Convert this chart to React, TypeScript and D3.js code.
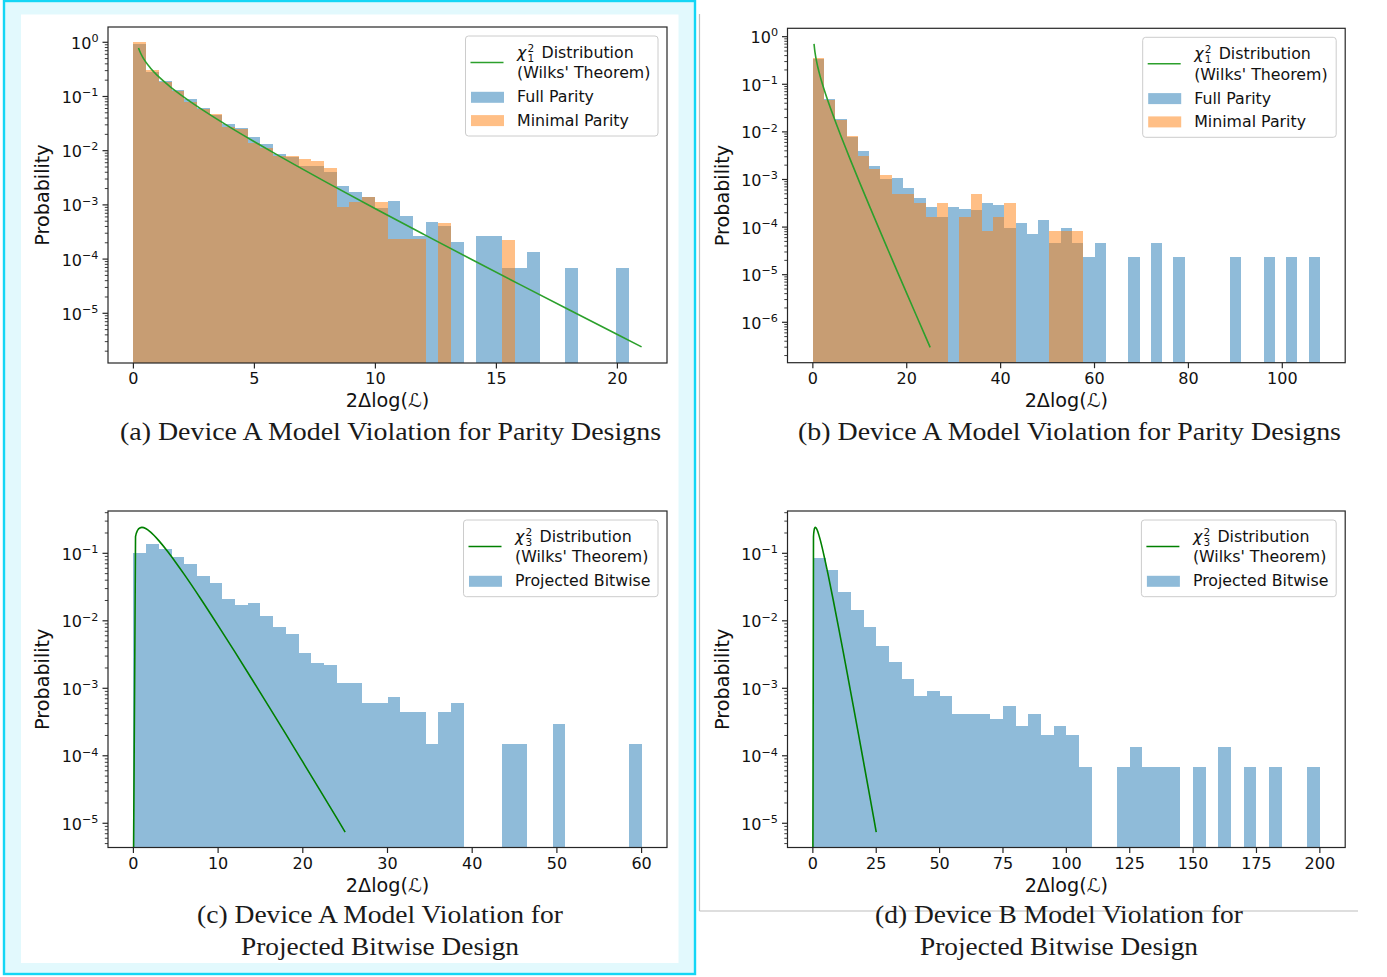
import React from 'react';
import * as d3 from 'd3';

const W = 1387;
const H = 977;

const BLUE = '#1f77b4';
const ORANGE = '#ff7f0e';

// ---------------- Panel (a): Device A, parity designs ----------------
const aBinWidth = 0.525;
const aFullParity = [
  0.93, 0.287, 0.19, 0.132, 0.0887, 0.0605, 0.0456, 0.0311, 0.0259, 0.0177,
  0.0133, 0.00869, 0.00776, 0.0053, 0.0053, 0.0041, 0.00223, 0.00171, 0.00142, 0.00089,
  0.00118, 0.00063, 0.000272, 0.000476, 0.000408, 0.000204, 0, 0.000272, 0.000272, 0.000068,
  0.000068, 0.000136, 0, 0, 0.000068, 0, 0, 0, 0.000068, 0,
];
const aMinimalParity = [
  1.0, 0.308, 0.182, 0.1245, 0.0804, 0.058, 0.0482, 0.027, 0.0248, 0.01406,
  0.01107, 0.00798, 0.00798, 0.00703, 0.00637, 0.00486, 0.000927, 0.00115, 0.00138, 0.00113,
  0.000232, 0.000232, 0.000232, 0, 0.000457, 0, 0, 0, 0, 0.000225,
  0, 0, 0, 0, 0, 0, 0, 0, 0, 0,
];
const aChiX = [0.21, 0.3, 0.4, 0.5, 0.7, 1, 1.5, 2, 3, 4, 5, 6, 8, 10, 12, 14, 16, 18, 20, 21];
const aChiY = [
  0.783, 0.627, 0.517, 0.439, 0.336, 0.242, 0.154, 0.104, 0.0514, 0.027,
  0.01465, 0.00811, 0.00258, 0.00085, 0.000286, 0.0000972, 0.0000335, 0.0000116, 0.00000405, 0.0000024,
];
const aXTicks = [0, 5, 10, 15, 20];
const aYTickExps = [0, -1, -2, -3, -4, -5];

// ---------------- Panel (b): Device A, parity designs (wide range) ----------------
const bBinWidth = 2.4;
const bFullParity = [
  0.34, 0.0491, 0.01837, 0.0077, 0.00398, 0.00192, 0.00101, 0.00108, 0.000653, 0.000416,
  0.000269, 0.000166, 0.000269, 0.00024, 0.000229, 0.000315, 0.000291, 0.000094, 0.000122, 0.0000705,
  0.000141, 0.000047, 0.000094, 0.000047, 0.0000235, 0.000047, 0, 0, 0.0000235, 0,
  0.000047, 0, 0.0000235, 0, 0, 0, 0, 0.0000235, 0, 0,
  0.0000235, 0, 0.0000235, 0, 0.0000235,
];
const bMinimalParity = [
  0.351, 0.0468, 0.0178, 0.00807, 0.00312, 0.00164, 0.00124, 0.000505, 0.000505, 0.000327,
  0.000166, 0.000321, 0, 0.000166, 0.000497, 0.000083, 0.000166, 0.000315, 0, 0,
  0, 0.000081, 0.000081, 0.000081, 0, 0, 0, 0, 0, 0,
  0, 0, 0, 0, 0, 0, 0, 0, 0, 0,
  0, 0, 0, 0, 0,
];
const bChiX = [0.25, 0.4, 0.5, 0.7, 1, 1.5, 2, 3, 4, 5, 6, 8, 10, 12, 14, 16, 18, 20, 22, 24, 25];
const bChiY = [
  0.704, 0.517, 0.439, 0.336, 0.242, 0.154, 0.104, 0.0514, 0.027, 0.01465,
  0.00811, 0.00258, 0.00085, 0.000286, 0.0000972, 0.0000335, 0.0000116, 0.00000405, 0.00000142, 0.0000005,
  0.000000297,
];
const bXTicks = [0, 20, 40, 60, 80, 100];
const bYTickExps = [0, -1, -2, -3, -4, -5, -6];

// ---------------- Panel (c): Device A, projected bitwise ----------------
const cBinWidth = 1.5;
const cProjectedBitwise = [
  0.1, 0.136, 0.116, 0.0871, 0.0687, 0.0461, 0.0359, 0.021, 0.01714, 0.01837,
  0.01178, 0.00809, 0.00631, 0.0033, 0.00237, 0.00221, 0.0012, 0.0012, 0.0006, 0.0006,
  0.00075, 0.00045, 0.00045, 0.00015, 0.00045, 0.0006, 0, 0, 0, 0.00015,
  0.00015, 0, 0, 0.0003, 0, 0, 0, 0, 0, 0.00015,
];
const chi3X = [0, 0.25, 0.5, 0.75, 1, 1.5, 2, 3, 4, 5, 6, 8, 10, 12, 14, 16, 18, 20, 22, 24, 25];
const chi3Y = [
  0, 0.176, 0.2197, 0.2375, 0.242, 0.2308, 0.2076, 0.1542, 0.108, 0.0732,
  0.0487, 0.0207, 0.0085, 0.00343, 0.00136, 0.000535, 0.000209, 0.000081, 0.0000313, 0.000012,
  0.0000074,
];
const cXTicks = [0, 10, 20, 30, 40, 50, 60];
const cYTickExps = [-1, -2, -3, -4, -5];

// ---------------- Panel (d): Device B, projected bitwise ----------------
const dBinWidth = 5;
const dProjectedBitwise = [
  0.0841, 0.0566, 0.027, 0.01429, 0.0081, 0.00424, 0.00243, 0.00139, 0.00076, 0.000912,
  0.00076, 0.000412, 0.000412, 0.000412, 0.000348, 0.000547, 0.00028, 0.000412, 0.000204, 0.00028,
  0.000204, 0.000068, 0, 0, 0.000068, 0.000137, 0.000068, 0.000068, 0.000068, 0,
  0.000068, 0, 0.000137, 0, 0.000068, 0, 0.000068, 0, 0, 0.000068,
];
const dXTicks = [0, 25, 50, 75, 100, 125, 150, 175, 200];
const dYTickExps = [-1, -2, -3, -4, -5];

type Series = { values: number[]; color: string; label: string };
type PanelCfg = {
  id: string;
  box: { l: number; t: number; r: number; b: number };
  xDomain: [number, number];
  yExp: [number, number];
  xTicks: number[];
  yTickExps: number[];
  binWidth: number;
  series: Series[];
  curveX: number[];
  curveY: number[];
  curveColor: string;
  dof: string;
  legendW: number;
  ylabelX: number;
  xlabelY: number;
};

const panels: PanelCfg[] = [
  {
    id: 'a',
    box: { l: 108, t: 27, r: 667, b: 363 },
    xDomain: [-1.05, 22.05],
    yExp: [-5.917, 0.282],
    xTicks: aXTicks,
    yTickExps: aYTickExps,
    binWidth: aBinWidth,
    series: [
      { values: aFullParity, color: BLUE, label: 'Full Parity' },
      { values: aMinimalParity, color: ORANGE, label: 'Minimal Parity' },
    ],
    curveX: aChiX,
    curveY: aChiY,
    curveColor: '#2ca02c',
    dof: '1',
    legendW: 192.5,
    ylabelX: 42,
    xlabelY: 407,
  },
  {
    id: 'b',
    box: { l: 787.5, t: 28.3, r: 1345.2, b: 362.7 },
    xDomain: [-5.4, 113.4],
    yExp: [-6.849, 0.176],
    xTicks: bXTicks,
    yTickExps: bYTickExps,
    binWidth: bBinWidth,
    series: [
      { values: bFullParity, color: BLUE, label: 'Full Parity' },
      { values: bMinimalParity, color: ORANGE, label: 'Minimal Parity' },
    ],
    curveX: bChiX,
    curveY: bChiY,
    curveColor: '#2ca02c',
    dof: '1',
    legendW: 193.5,
    ylabelX: 722,
    xlabelY: 407,
  },
  {
    id: 'c',
    box: { l: 108, t: 511, r: 667, b: 847.5 },
    xDomain: [-3, 63],
    yExp: [-5.359, -0.373],
    xTicks: cXTicks,
    yTickExps: cYTickExps,
    binWidth: cBinWidth,
    series: [{ values: cProjectedBitwise, color: BLUE, label: 'Projected Bitwise' }],
    curveX: chi3X,
    curveY: chi3Y,
    curveColor: '#008000',
    dof: '3',
    legendW: 194.5,
    ylabelX: 42,
    xlabelY: 891.5,
  },
  {
    id: 'd',
    box: { l: 787.5, t: 511, r: 1345.2, b: 847.5 },
    xDomain: [-10, 210],
    yExp: [-5.359, -0.373],
    xTicks: dXTicks,
    yTickExps: dYTickExps,
    binWidth: dBinWidth,
    series: [{ values: dProjectedBitwise, color: BLUE, label: 'Projected Bitwise' }],
    curveX: chi3X,
    curveY: chi3Y,
    curveColor: '#008000',
    dof: '3',
    legendW: 194.8,
    ylabelX: 722,
    xlabelY: 891.5,
  },
];

const TICK_FS = 16;
const LABEL_FS = 19.2;
const AXIS_COLOR = '#262626';

function Panel({ cfg }: { cfg: PanelCfg }) {
  const { box } = cfg;
  const x = d3.scaleLinear().domain(cfg.xDomain).range([box.l, box.r]);
  const y = d3
    .scaleLog()
    .domain([Math.pow(10, cfg.yExp[0]), Math.pow(10, cfg.yExp[1])])
    .range([box.b, box.t]);
  const clipId = `clip-${cfg.id}`;

  const bars = cfg.series.map((s, si) =>
    s.values.map((v, i) => {
      if (!(v > 0)) return null;
      const x0 = x(i * cfg.binWidth);
      const x1 = x((i + 1) * cfg.binWidth);
      const yt = y(v);
      return (
        <rect
          key={`${si}-${i}`}
          x={x0}
          width={x1 - x0}
          y={yt}
          height={box.b - yt}
          fill={s.color}
          fillOpacity={0.5}
          shapeRendering="crispEdges"
        />
      );
    })
  );

  const pts: [number, number][] = cfg.curveX.map((xv, i) => [
    x(xv),
    cfg.curveY[i] > 0 ? y(cfg.curveY[i]) : box.b + 30,
  ]);
  const linePath = d3.line().curve(d3.curveMonotoneX)(pts) || '';

  const minor: number[] = [];
  for (let e = Math.floor(cfg.yExp[0]) - 1; e <= Math.ceil(cfg.yExp[1]); e++) {
    for (let m = 2; m <= 9; m++) {
      const lv = Math.log10(m) + e;
      if (lv >= cfg.yExp[0] && lv <= cfg.yExp[1]) minor.push(m * Math.pow(10, e));
    }
  }

  // legend
  const lw = cfg.legendW;
  const lx = box.r - 9 - lw;
  const ly = box.t + 9;
  const lh = cfg.series.length === 2 ? 100 : 76.7;
  const tx = lx + 51.5;

  return (
    <g>
      <defs>
        <clipPath id={clipId}>
          <rect x={box.l} y={box.t} width={box.r - box.l} height={box.b - box.t} />
        </clipPath>
      </defs>
      <g clipPath={`url(#${clipId})`}>
        {bars}
        <path d={linePath} fill="none" stroke={cfg.curveColor} strokeWidth={1.6} />
      </g>
      {/* spines */}
      <rect
        x={box.l}
        y={box.t}
        width={box.r - box.l}
        height={box.b - box.t}
        fill="none"
        stroke={AXIS_COLOR}
        strokeWidth={1.2}
      />
      {/* x ticks */}
      {cfg.xTicks.map((t) => (
        <g key={`xt${t}`}>
          <line x1={x(t)} x2={x(t)} y1={box.b} y2={box.b + 5.5} stroke={AXIS_COLOR} strokeWidth={1.2} />
          <text x={x(t)} y={box.b + 21} textAnchor="middle" fontSize={TICK_FS} fill="#111">
            {t}
          </text>
        </g>
      ))}
      {/* y major ticks */}
      {cfg.yTickExps.map((e) => {
        const yy = y(Math.pow(10, e));
        return (
          <g key={`yt${e}`}>
            <line x1={box.l - 5.5} x2={box.l} y1={yy} y2={yy} stroke={AXIS_COLOR} strokeWidth={1.2} />
            <text x={box.l - 9.5} y={yy + 6.6} textAnchor="end" fontSize={TICK_FS} fill="#111">
              10
              <tspan dy={-6.8} fontSize={11.2}>
                {e === 0 ? '0' : `\u2212${-e}`}
              </tspan>
            </text>
          </g>
        );
      })}
      {/* y minor ticks */}
      {minor.map((v, i) => (
        <line
          key={`ym${i}`}
          x1={box.l - 3.2}
          x2={box.l}
          y1={y(v)}
          y2={y(v)}
          stroke={AXIS_COLOR}
          strokeWidth={0.9}
        />
      ))}
      {/* axis labels */}
      <text
        x={(box.l + box.r) / 2}
        y={cfg.xlabelY}
        textAnchor="middle"
        fontSize={LABEL_FS}
        fill="#111"
      >
        2Δlog(<tspan fontStyle="italic">ℒ</tspan>)
      </text>
      <text
        transform={`translate(${cfg.ylabelX},${(box.t + box.b) / 2}) rotate(-90)`}
        textAnchor="middle"
        dominantBaseline="central"
        fontSize={LABEL_FS}
        fill="#111"
      >
        Probability
      </text>
      {/* legend */}
      <g>
        <rect
          x={lx}
          y={ly}
          width={lw}
          height={lh}
          rx={3}
          fill="#fff"
          fillOpacity={0.8}
          stroke="#cccccc"
          strokeWidth={1}
        />
        <line
          x1={lx + 5}
          x2={lx + 38}
          y1={ly + 26.5}
          y2={ly + 26.5}
          stroke={cfg.curveColor}
          strokeWidth={1.6}
        />
        <text x={tx} y={ly + 21.6} fontSize={15.8} fill="#111" fontStyle="italic">
          χ
        </text>
        <text x={tx + 10.5} y={ly + 15.6} fontSize={10.5} fill="#111">
          2
        </text>
        <text x={tx + 10.5} y={ly + 25.6} fontSize={10.5} fill="#111">
          {cfg.dof}
        </text>
        <text x={tx + 24.5} y={ly + 21.6} fontSize={15.8} fill="#111">
          Distribution
        </text>
        <text x={tx} y={ly + 42.2} fontSize={15.8} fill="#111">
          (Wilks' Theorem)
        </text>
        {cfg.series.map((s, i) => (
          <g key={`lg${i}`}>
            <rect
              x={lx + 5.5}
              y={ly + 55.8 + i * 23.3}
              width={33}
              height={11}
              fill={s.color}
              fillOpacity={0.5}
            />
            <text x={tx} y={ly + 66.2 + i * 23.5} fontSize={15.8} fill="#111">
              {s.label}
            </text>
          </g>
        ))}
      </g>
    </g>
  );
}

const captions = [
  { text: '(a) Device A Model Violation for Parity Designs', x: 390.5, y: 440, len: 541 },
  { text: '(b) Device A Model Violation for Parity Designs', x: 1069.5, y: 440, len: 543 },
  { text: '(c) Device A Model Violation for', x: 380, y: 923, len: 366 },
  { text: 'Projected Bitwise Design', x: 380, y: 955, len: 278 },
  { text: '(d) Device B Model Violation for', x: 1059, y: 923, len: 368 },
  { text: 'Projected Bitwise Design', x: 1059, y: 955, len: 278 },
];

export default function App() {
  return (
    <div style={{ position: 'absolute', left: 0, top: 0, width: W, height: H, background: '#fff' }}>
      <svg
        width={W}
        height={H}
        viewBox={`0 0 ${W} ${H}`}
        style={{ display: 'block' }}
        fontFamily="'DejaVu Sans', sans-serif"
      >
        <rect width={W} height={H} fill="#fff" />
        {/* left highlighted frame */}
        <rect x={4} y={1} width={691} height={973} fill="#e2f9fd" stroke="#14d6f5" strokeWidth={2.4} />
        <rect x={21} y={14.5} width={657.5} height={948.5} fill="#fff" />
        {/* right frame lines */}
        <line x1={699.5} y1={14} x2={699.5} y2={911} stroke="#bdbdbd" strokeWidth={1.2} />
        <line x1={699.5} y1={911} x2={1358} y2={911} stroke="#bdbdbd" strokeWidth={1.2} />
        {panels.map((p) => (
          <Panel key={p.id} cfg={p} />
        ))}
        {captions.map((c, i) => (
          <text
            key={`cap${i}`}
            x={c.x}
            y={c.y}
            textAnchor="middle"
            fontFamily="'Liberation Serif', 'DejaVu Serif', serif"
            fontSize={25}
            textLength={c.len}
            lengthAdjust="spacingAndGlyphs"
            fill="#1a1a1a"
          >
            {c.text}
          </text>
        ))}
      </svg>
    </div>
  );
}
